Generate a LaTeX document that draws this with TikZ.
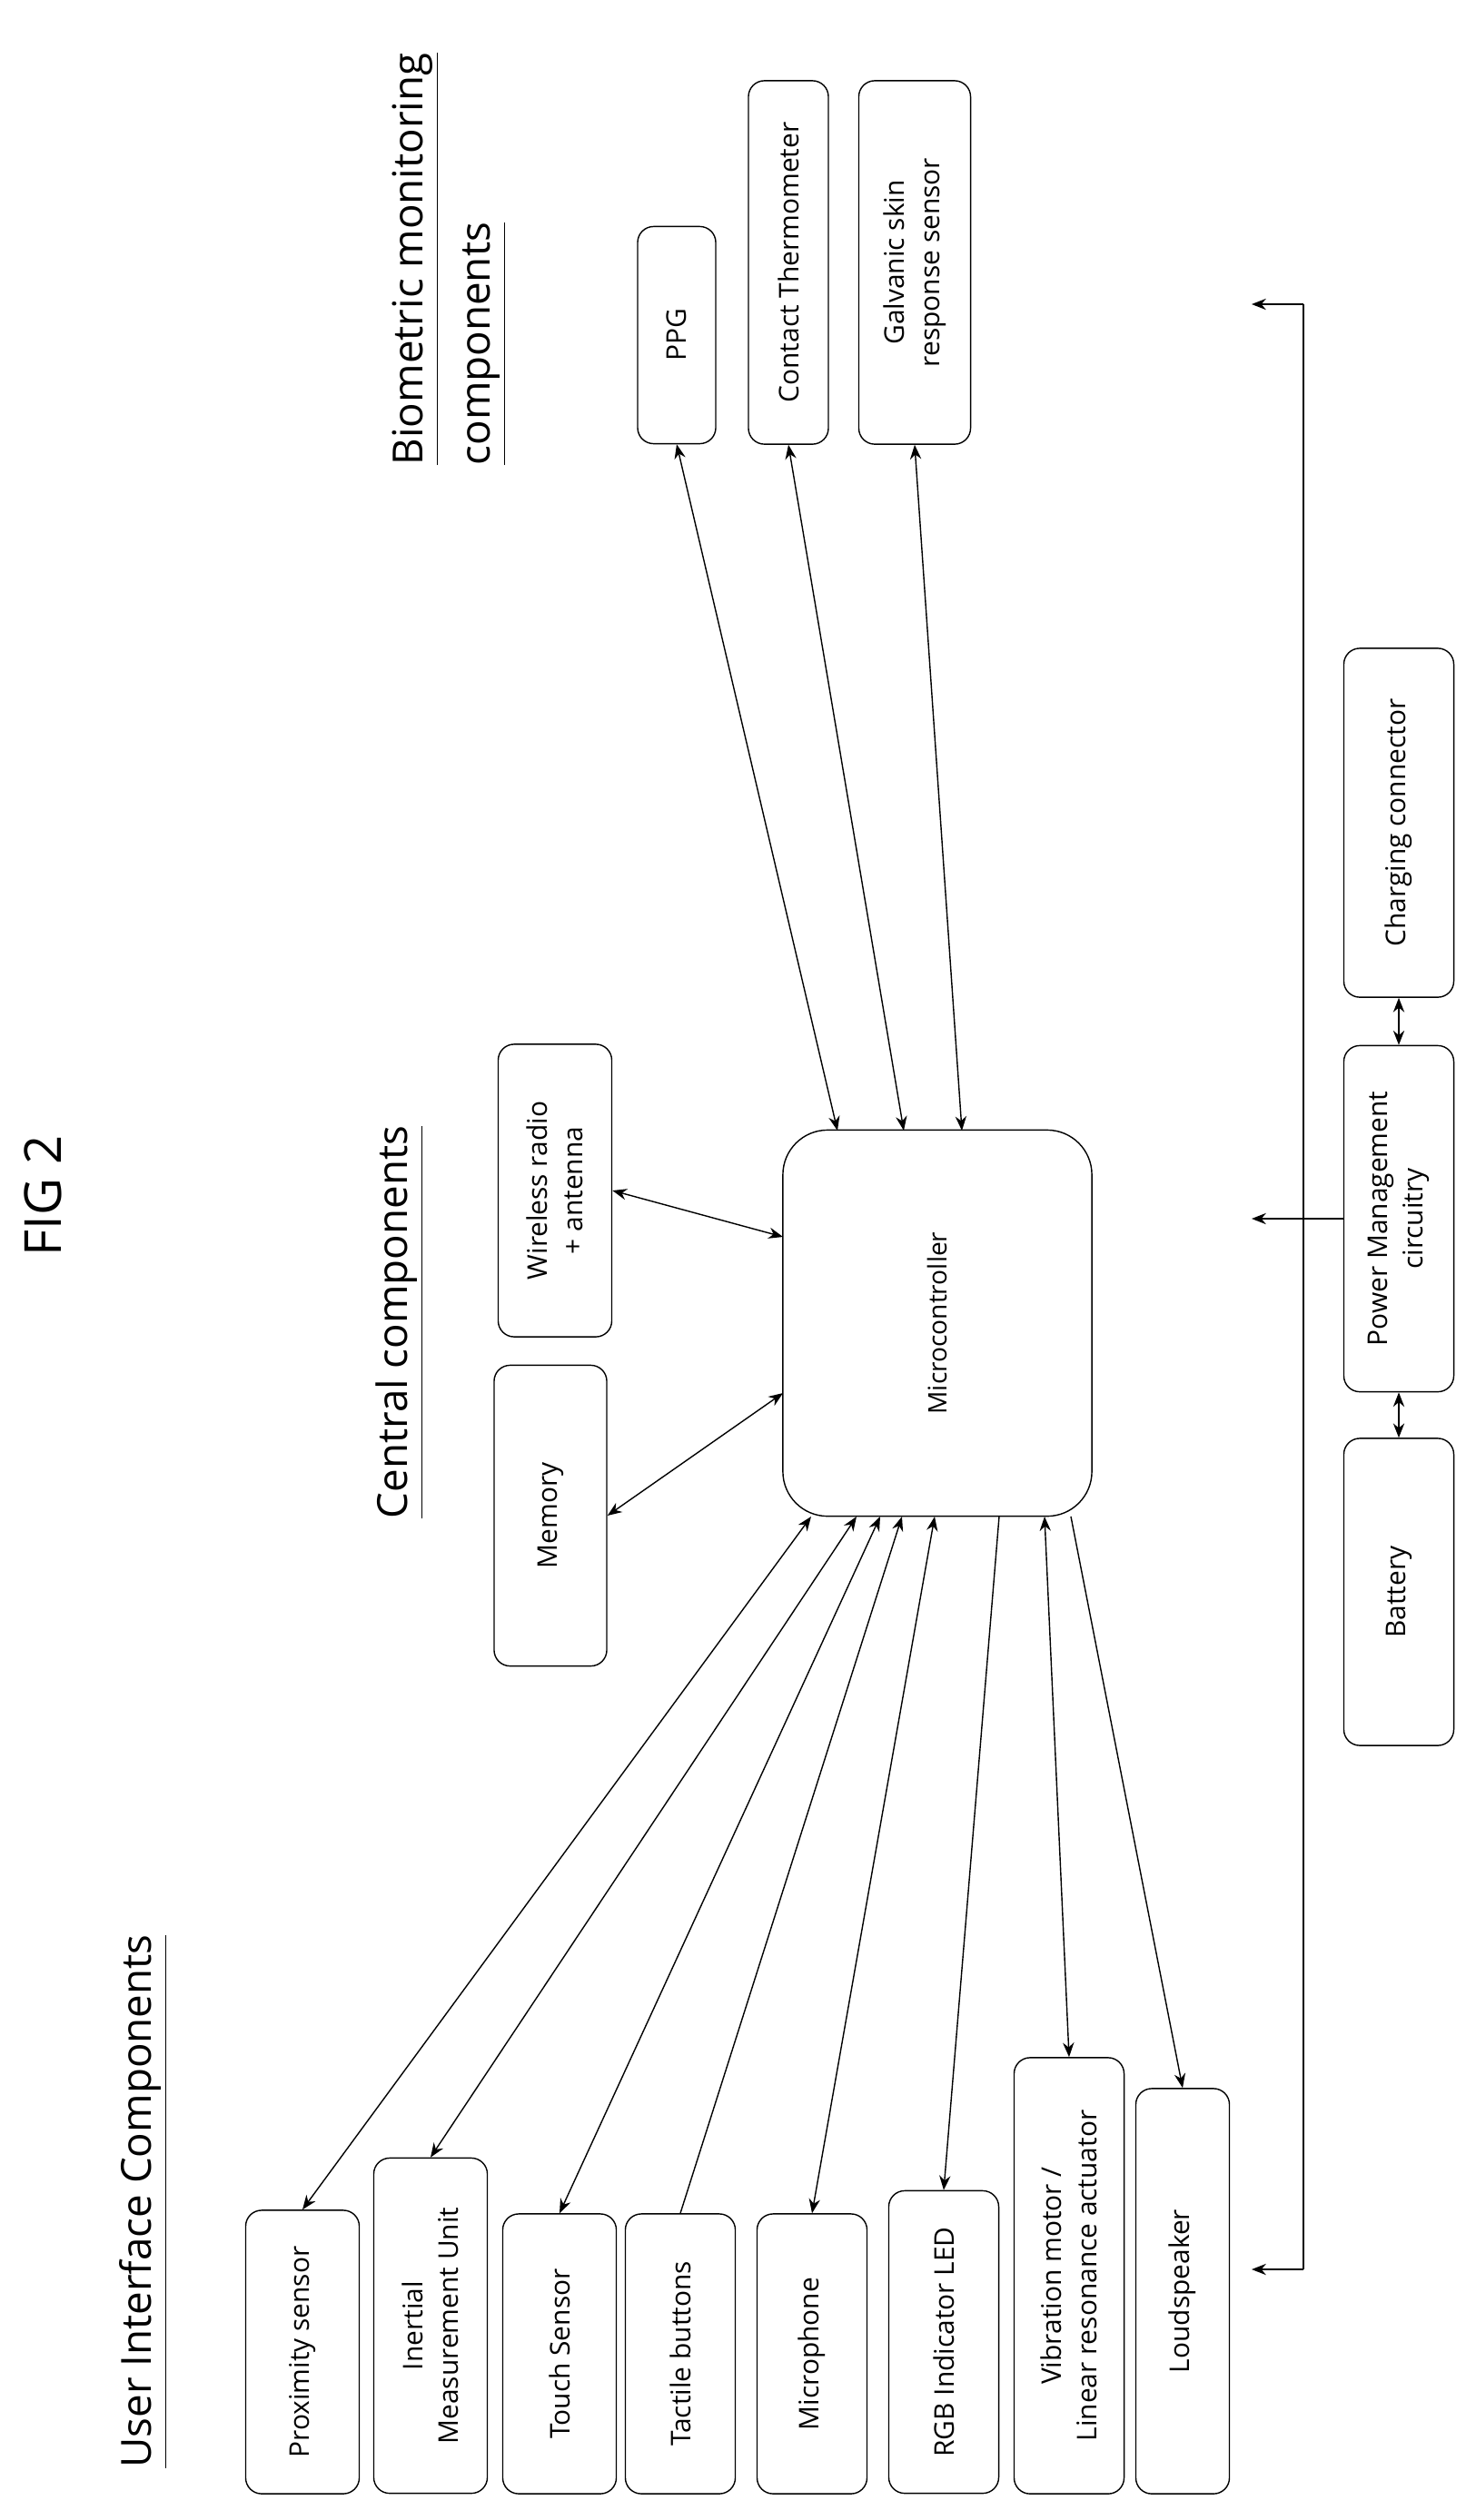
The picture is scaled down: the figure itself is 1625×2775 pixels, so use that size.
\documentclass[tikz,border=0pt]{standalone}
\usepackage{fontspec}
\setmainfont{Open Sans}
\usetikzlibrary{arrows.meta,calc}

\tikzset{
  blk/.style 2 args={draw,rounded corners=5pt,rotate=90,align=center,inner sep=1pt,
    minimum width=#1,minimum height=#2,font=\fontsize{8.5}{11}\selectfont},
  head/.style={rotate=90,align=left,inner sep=0pt,font=\fontsize{13}{21}\selectfont},
  link/.style={thin,{Stealth[length=4.5pt,width=3.5pt]}-{Stealth[length=4.5pt,width=3.5pt]}},
  tobox/.style={thin,-{Stealth[length=4.5pt,width=3.5pt]}},
}

\begin{document}
\begin{tikzpicture}[x=0.01cm,y=-0.01cm]
\useasboundingbox (0,0) rectangle (1625,2775);
  % headings
\node[head,font=\fontsize{16}{18}\selectfont] (fig) at (47,1317) {FIG 2};
\node[head] (central) at (440,1456) {\underline{Central components}};
\node[head,anchor=west] (bio) at (495,513) {\underline{Biometric monitoring}\\\underline{components}};
\node[head] (ui) at (158,2424) {\underline{User Interface Components}};

  % central
\node[blk={4.25cm}{3.4cm},rounded corners=14pt,font=\fontsize{8}{10}\selectfont] (micro) at (1032,1457) {Microcontroller};
\node[blk={3.31cm}{1.24cm}] (memory) at (606,1669) {Memory};
\node[blk={3.22cm}{1.25cm}] (radio) at (611,1311) {Wireless radio\\+ antenna};

  % biometric
\node[blk={2.39cm}{0.86cm}] (ppg) at (745,369) {PPG};
\node[blk={4.0cm}{0.88cm}] (thermo) at (868,289) {Contact Thermometer};
\node[blk={4.0cm}{1.23cm}] (gsr) at (1007,289) {Galvanic skin\\response sensor};

  % user interface
\node[blk={3.12cm}{1.25cm}] (prox) at (333,2590) {Proximity sensor};
\node[blk={3.69cm}{1.25cm}] (imu) at (474,2561) {Inertial\\Measurement Unit};
\node[blk={3.08cm}{1.25cm}] (touch) at (616,2592) {Touch Sensor};
\node[blk={3.08cm}{1.21cm}] (tactile) at (749,2592) {Tactile buttons};
\node[blk={3.08cm}{1.21cm}] (mic) at (894,2592) {Microphone};
\node[blk={3.33cm}{1.21cm}] (rgb) at (1039,2579) {RGB Indicator LED};
\node[blk={4.8cm}{1.21cm}] (vib) at (1177,2506) {Vibration motor /\\Linear resonance actuator};
\node[blk={4.46cm}{1.03cm}] (speaker) at (1302,2523) {Loudspeaker};

  % power
\node[blk={3.84cm}{1.21cm}] (charge) at (1540,906) {Charging connector};
\node[blk={3.81cm}{1.21cm}] (power) at (1540,1342) {Power Management\\circuitry};
\node[blk={3.38cm}{1.21cm}] (battery) at (1540,1753) {Battery};

  % ports on the microcontroller
\coordinate (mt1) at (922,1245);
\coordinate (mt2) at (995,1245);
\coordinate (mt3) at (1059,1245);
\coordinate (ml1) at (862,1362);
\coordinate (ml2) at (862,1534);
\coordinate (mb1) at (893,1670);
\coordinate (mb2) at (943,1670);
\coordinate (mb3) at (969,1670);
\coordinate (mb4) at (993,1670);
\coordinate (mb5) at (1029,1670);
\coordinate (mb6) at (1100,1670);
\coordinate (mb7) at (1150,1670);
\coordinate (mb8) at (1179,1670);

\draw[link] (radio.south) -- (ml1);
\draw[link] (memory.south) -- (ml2);
\draw[link] (ppg.west) -- (mt1);
\draw[link] (thermo.west) -- (mt2);
\draw[link] (gsr.west) -- (mt3);

\draw[link] (prox.east) -- (mb1);
\draw[link] (imu.east) -- (mb2);
\draw[link] (touch.east) -- (mb3);
\draw[tobox] (tactile.east) -- (mb4);
\draw[link] (mic.east) -- (mb5);
\draw[tobox] (mb6) -- (rgb.east);
\draw[link] (vib.east) -- (mb7);
\draw[tobox] (mb8) -- (speaker.east);

  % power bus
\coordinate (bustop) at (1435,335);
\coordinate (busbot) at (1435,2499);
\coordinate (outtop) at (1378,335);
\coordinate (outmid) at (1378,1342);
\coordinate (outbot) at (1378,2499);
\draw[link] (charge.west) -- (power.east);
\draw[link] (power.west) -- (battery.east);
\draw[thin] (bustop) -- (busbot);
\draw[tobox] (bustop) -- (outtop);
\draw[tobox] (busbot) -- (outbot);
\draw[tobox] (power.north) -- (outmid);
\end{tikzpicture}
\end{document}
